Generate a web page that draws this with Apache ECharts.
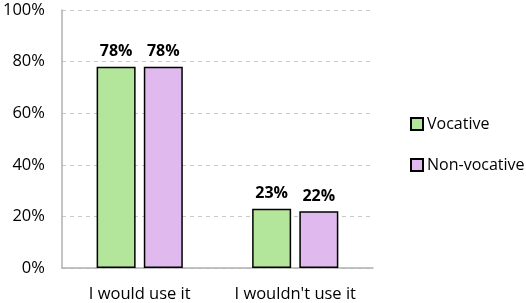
<!DOCTYPE html>
<html>
<head>
<meta charset="utf-8">
<script src="https://cdn.jsdelivr.net/npm/echarts@6/dist/echarts.min.js"></script>
<style>
  html, body { margin: 0; padding: 0; background: #fff; }
  #chart { width: 526px; height: 303px; }
</style>
</head>
<body>
<div id="chart"></div>
<script>
const categories = ['I would use it', "I wouldn't use it"];
const vocative = [78, 23];
const nonVocative = [78, 22];
const yTicks = [0, 20, 40, 60, 80, 100];

const font = 'Open Sans, Liberation Sans, sans-serif';
const chart = echarts.init(document.getElementById('chart'));

const barLabel = {
    show: true,
    position: 'top',
    distance: 7,
    formatter: p => p.value + '%',
    fontFamily: font,
    fontSize: 16,
    fontWeight: 'bold',
    color: '#000'
};

chart.setOption({
    animation: false,
    grid: {left: 61, right: 153, top: 10, bottom: 34},
    legend: {
        orient: 'vertical',
        left: 405,
        top: 111,
        itemGap: 25,
        itemWidth: 12,
        itemHeight: 12,
        icon: 'rect',
        textStyle: {fontFamily: font, fontSize: 16, color: '#000', padding: [0, 0, 0, -1]},
        data: ['Vocative', 'Non-vocative']
    },
    xAxis: {
        type: 'category',
        data: categories,
        axisTick: {show: false},
        axisLine: {lineStyle: {color: '#b0b0b0', width: 1.5}},
        axisLabel: {interval: 0, fontFamily: font, fontSize: 16.5, color: '#000', margin: 18}
    },
    yAxis: {
        type: 'value',
        min: 0,
        max: 100,
        interval: 20,
        axisLine: {show: true, lineStyle: {color: '#b0b0b0', width: 1.5}},
        axisTick: {show: false},
        splitLine: {lineStyle: {color: '#c8c8c8', type: [4, 4]}},
        axisLabel: {
            fontFamily: font, fontSize: 16.5, color: '#000', margin: 17,
            formatter: v => yTicks.includes(v) ? v + '%' : ''
        }
    },
    series: [
        {
            name: 'Vocative',
            type: 'bar',
            data: vocative,
            barWidth: 39,
            barGap: '21%',
            itemStyle: {color: '#b3e59b', borderColor: '#000', borderWidth: 1.5},
            label: barLabel
        },
        {
            name: 'Non-vocative',
            type: 'bar',
            data: nonVocative,
            barWidth: 39,
            itemStyle: {color: '#e0baee', borderColor: '#000', borderWidth: 1.5},
            label: barLabel
        }
    ]
});
</script>
</body>
</html>
